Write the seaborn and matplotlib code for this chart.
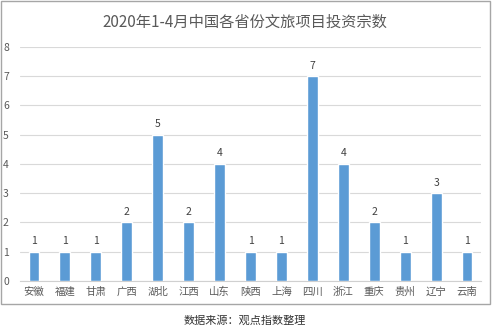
import matplotlib
matplotlib.use("Agg")
import matplotlib.pyplot as plt
import seaborn as sns
import pandas as pd
from matplotlib.patches import Rectangle

provinces = ["安徽", "福建", "甘肃", "广西", "湖北", "江西", "山东", "陕西",
             "上海", "四川", "浙江", "重庆", "贵州", "辽宁", "云南"]
counts = [1, 1, 1, 2, 5, 2, 4, 1, 1, 7, 4, 2, 1, 3, 1]
y_ticks = [0, 1, 2, 3, 4, 5, 6, 7, 8]

title = "2020年1-4月中国各省份文旅项目投资宗数"
source = "数据来源：观点指数整理"

sns.set_theme(style="white")
plt.rcParams["font.family"] = ["Noto Sans CJK SC", "DejaVu Sans"]

df = pd.DataFrame({"province": provinces, "count": counts})

fig = plt.figure(figsize=(5.0, 3.3), dpi=100)
ax = fig.add_axes([0.04, 0.1485, 0.922, 0.7095])

sns.barplot(data=df, x="province", y="count", color="#5B9BD5",
            saturation=1, width=0.35, ax=ax, zorder=3)

ax.set_ylim(0, 8)
ax.set_yticks(y_ticks)
ax.set_xlim(-0.45, len(provinces) - 0.55)
ax.yaxis.grid(True, color="#d9d9d9", linewidth=0.8, zorder=0)
ax.set_axisbelow(True)
for side in ["top", "right", "left"]:
    ax.spines[side].set_visible(False)
ax.spines["bottom"].set_color("#d0d0d0")
ax.spines["bottom"].set_linewidth(0.8)
ax.set_xlabel("")
ax.set_ylabel("")
ax.tick_params(axis="both", length=0, colors="#595959", labelsize=7.5)
ax.tick_params(axis="y", pad=8)
ax.tick_params(axis="x", pad=4)

for container in ax.containers:
    ax.bar_label(container, labels=[str(v) for v in counts],
                 padding=4, fontsize=7.5, color="#404040")

fig.text(0.49, 0.933, title, ha="center", va="center",
         fontsize=11, color="#595959")

# chart frame
fig.patches.append(Rectangle((0.002, 0.08), 0.978, 0.918,
                             transform=fig.transFigure, fill=False,
                             edgecolor="#a6a6a6", linewidth=1.0))

fig.text(0.49, 0.03, source, ha="center", va="center",
         fontsize=8, color="#333333")

fig.savefig("out.png", dpi=100)
